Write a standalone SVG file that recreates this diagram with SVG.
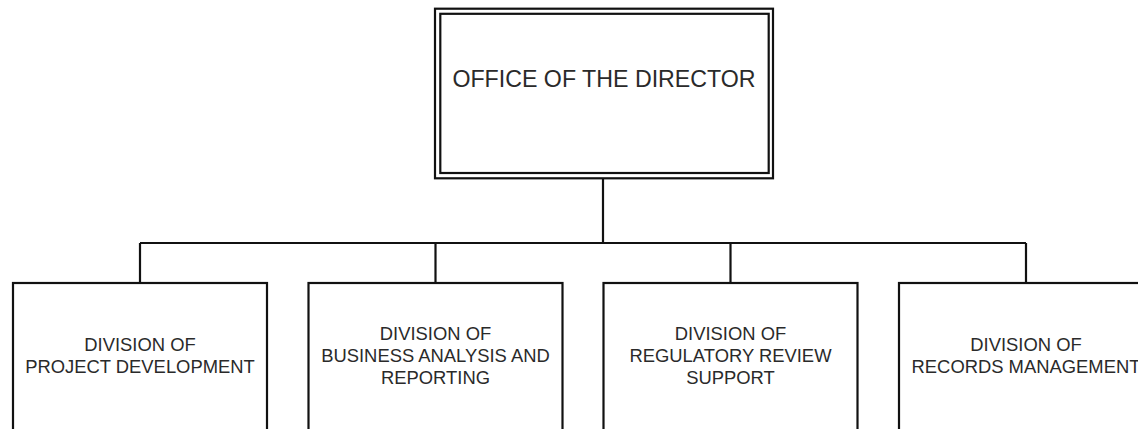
<svg xmlns="http://www.w3.org/2000/svg" width="1138" height="429" viewBox="0 0 1138 429">
<style>
.box{fill:#fff;stroke:#111;stroke-width:2.2}
.conn{fill:none;stroke:#111;stroke-width:2.2}
.t{font-family:"Liberation Sans",Arial,sans-serif;fill:#2a2a2a;text-anchor:middle}
.big{font-size:23.2px}
.sm{font-size:18.4px}
</style>
<rect width="1138" height="429" fill="#fff"/>
<g id="connectors">
<path class="conn" d="M603 178 V243 M140 243 H1026 M140 243 V283 M435.5 243 V283 M730.5 243 V283 M1026 243 V283"/>
</g>
<g id="director">
<rect class="box" x="435" y="8.7" width="338" height="169.6"/>
<rect class="box" x="440.3" y="13.8" width="328.4" height="159.2"/>
<text class="t big" x="604" y="87">OFFICE OF THE DIRECTOR</text>
</g>
<g id="project-development">
<rect class="box" x="13" y="283" width="254" height="160"/>
<text class="t sm" x="140" y="350.5">DIVISION OF</text>
<text class="t sm" x="140" y="372.5">PROJECT DEVELOPMENT</text>
</g>
<g id="business-analysis">
<rect class="box" x="308.5" y="283" width="254" height="160"/>
<text class="t sm" x="435.5" y="339.5">DIVISION OF</text>
<text class="t sm" x="435.5" y="361.5">BUSINESS ANALYSIS AND</text>
<text class="t sm" x="435.5" y="383.5">REPORTING</text>
</g>
<g id="regulatory-review">
<rect class="box" x="603.5" y="283" width="254" height="160"/>
<text class="t sm" x="730.5" y="339.5">DIVISION OF</text>
<text class="t sm" x="730.5" y="361.5">REGULATORY REVIEW</text>
<text class="t sm" x="730.5" y="383.5">SUPPORT</text>
</g>
<g id="records-management">
<rect class="box" x="899" y="283" width="254" height="160"/>
<text class="t sm" x="1026" y="350.5">DIVISION OF</text>
<text class="t sm" x="1026" y="372.5">RECORDS MANAGEMENT</text>
</g>
</svg>
